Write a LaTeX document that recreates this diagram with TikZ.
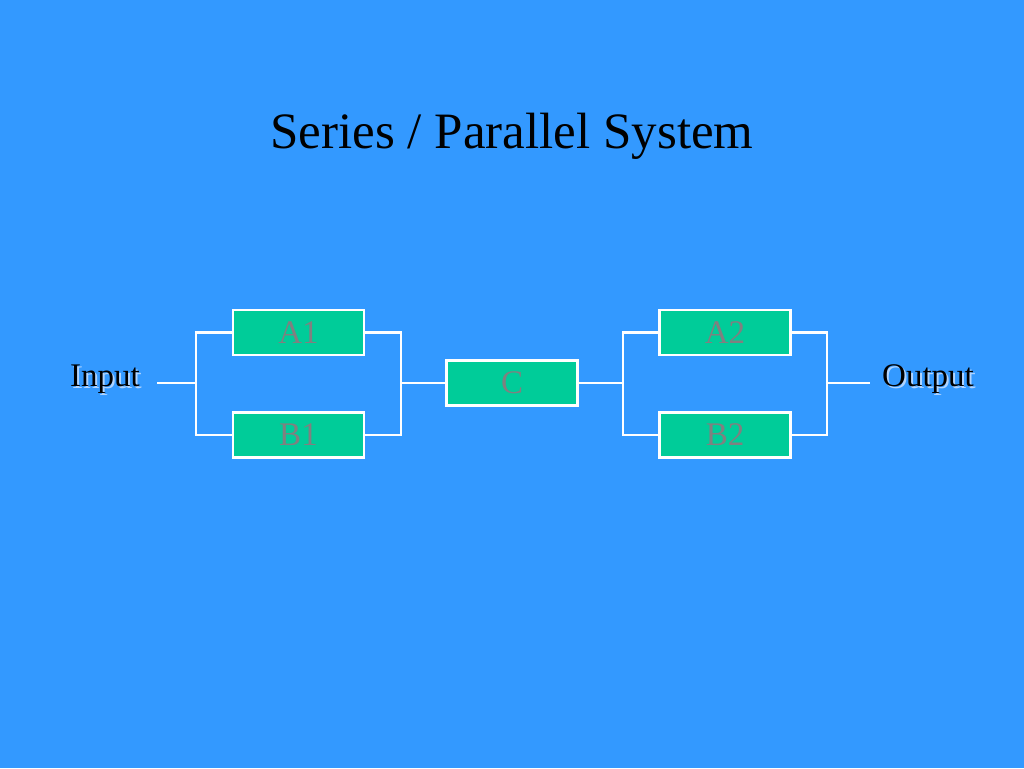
\documentclass[tikz,border=0pt]{standalone}
\usepackage{fontspec}
\setmainfont{Liberation Serif}
\definecolor{bg}{HTML}{3399FF}
\definecolor{boxg}{HTML}{00CC99}
\definecolor{lab}{HTML}{808080}
\definecolor{shad}{HTML}{B0D4FF}
\begin{document}
\begin{tikzpicture}[x=1pt,y=-1pt,
  blk/.style={draw=white,line width=2.5pt,fill=boxg,minimum width=131pt,minimum height=45pt,inner sep=0pt,text=lab,font=\fontsize{33}{33}\selectfont},
  wire/.style={draw=white,line width=2.5pt},
  io/.style={font=\fontsize{33}{33}\selectfont,text=black},
  ioshadow/.style={font=\fontsize{33}{33}\selectfont,text=shad}]
\fill[bg] (0,0) rectangle (1024,768);
\useasboundingbox (0,0) rectangle (1024,768);
\node[font=\fontsize{51}{51}\selectfont] (title) at (512,136) {Series / Parallel System};
\node[blk] (A1) at (298.5,332.5) {A1};
\node[blk] (B1) at (298.5,435) {B1};
\node[blk] (C) at (512,383) {C};
\node[blk] (A2) at (725,332.5) {A2};
\node[blk] (B2) at (725,435) {B2};
\node[ioshadow] (ins) at (107,381) {Input};
\node[ioshadow] (outs) at (930,381) {Output};
\node[io] (in) at (105,379) {Input};
\node[io] (out) at (928,379) {Output};
\coordinate (inE) at (157,383);
\coordinate (outW) at (870,383);
\draw[wire] (inE) -- (196,383);
\draw[wire] (A1.west) -| (196,383) |- (B1.west);
\draw[wire] (A1.east) -| (401,383) |- (B1.east);
\draw[wire] (401,383) -- (C.west);
\draw[wire] (C.east) -- (623,383);
\draw[wire] (A2.west) -| (623,383) |- (B2.west);
\draw[wire] (A2.east) -| (827,383) |- (B2.east);
\draw[wire] (827,383) -- (outW);
\end{tikzpicture}
\end{document}
